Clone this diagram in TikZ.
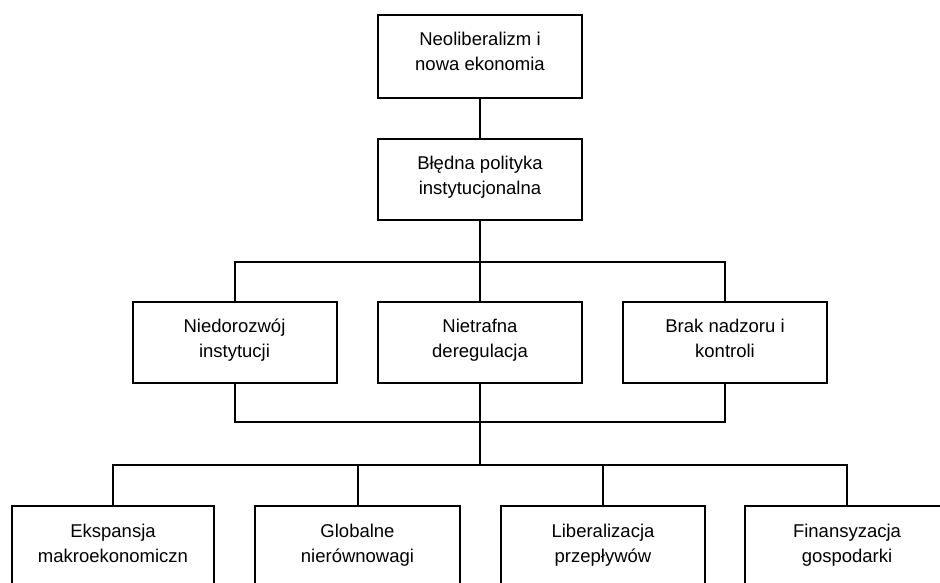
\documentclass[tikz,border=0pt]{standalone}
\usepackage{fontspec}
\setmainfont{Liberation Sans}
\begin{document}
\begin{tikzpicture}[x=1pt,y=-1pt,
  box/.style={draw=black, line width=2pt, fill=white, minimum width=204pt, inner sep=0pt},
  txt/.style={anchor=north, align=center, inner sep=0pt, font=\fontsize{18.5}{25}\selectfont},
  link/.style={draw=black, line width=2pt}]
\useasboundingbox (0,0) rectangle (940,583);
\clip (0,0) rectangle (940,583);
% row 1 and 2
\node[box, minimum height=83pt] (n1) at (480,56.5) {};
\node[box, minimum height=81pt] (n2) at (480,179.5) {};
% middle row
\node[box, minimum height=81pt] (m1) at (234.5,342.5) {};
\node[box, minimum height=81pt] (m2) at (480,342.5) {};
\node[box, minimum height=81pt] (m3) at (725,342.5) {};
% bottom row
\node[box, minimum height=82pt, minimum width=202pt] (b1) at (113,547) {};
\node[box, minimum height=82pt, minimum width=205pt] (b2) at (357.5,547) {};
\node[box, minimum height=82pt] (b3) at (603,547) {};
\node[box, minimum height=82pt] (b4) at (847,547) {};
% junctions
\coordinate (j1) at (480,262);
\coordinate (j2) at (480,422);
\coordinate (j3) at (480,465);
% connectors
\draw[link] (n1.south) -- (n2.north);
\draw[link] (n2.south) -- (m2.north);
\draw[link] (m1.north) |- (j1) -| (m3.north);
\draw[link] (m1.south) |- (j2) -| (m3.south);
\draw[link] (m2.south) -- (j3);
\draw[link] (b1.north) |- (j3) -| (b4.north);
\draw[link] (b2.north) |- (j3);
\draw[link] (b3.north) |- (j3);
% texts
\node[txt] (t1) at ([yshift=-18pt]n1.north) {Neoliberalizm i\\nowa ekonomia};
\node[txt] (t2) at ([yshift=-18pt]n2.north) {Błędna polityka\\instytucjonalna};
\node[txt] (t3) at ([yshift=-18pt]m1.north) {Niedorozwój\\instytucji};
\node[txt] (t4) at ([yshift=-18pt]m2.north) {Nietrafna\\deregulacja};
\node[txt] (t5) at ([yshift=-18pt]m3.north) {Brak nadzoru i\\kontroli};
\node[txt] (t6) at ([yshift=-19pt]b1.north) {Ekspansja\\makroekonomiczn};
\node[txt] (t7) at ([yshift=-19pt]b2.north) {Globalne\\nierównowagi};
\node[txt] (t8) at ([yshift=-19pt]b3.north) {Liberalizacja\\przepływów};
\node[txt] (t9) at ([yshift=-19pt]b4.north) {Finansyzacja\\gospodarki};
\end{tikzpicture}
\end{document}
